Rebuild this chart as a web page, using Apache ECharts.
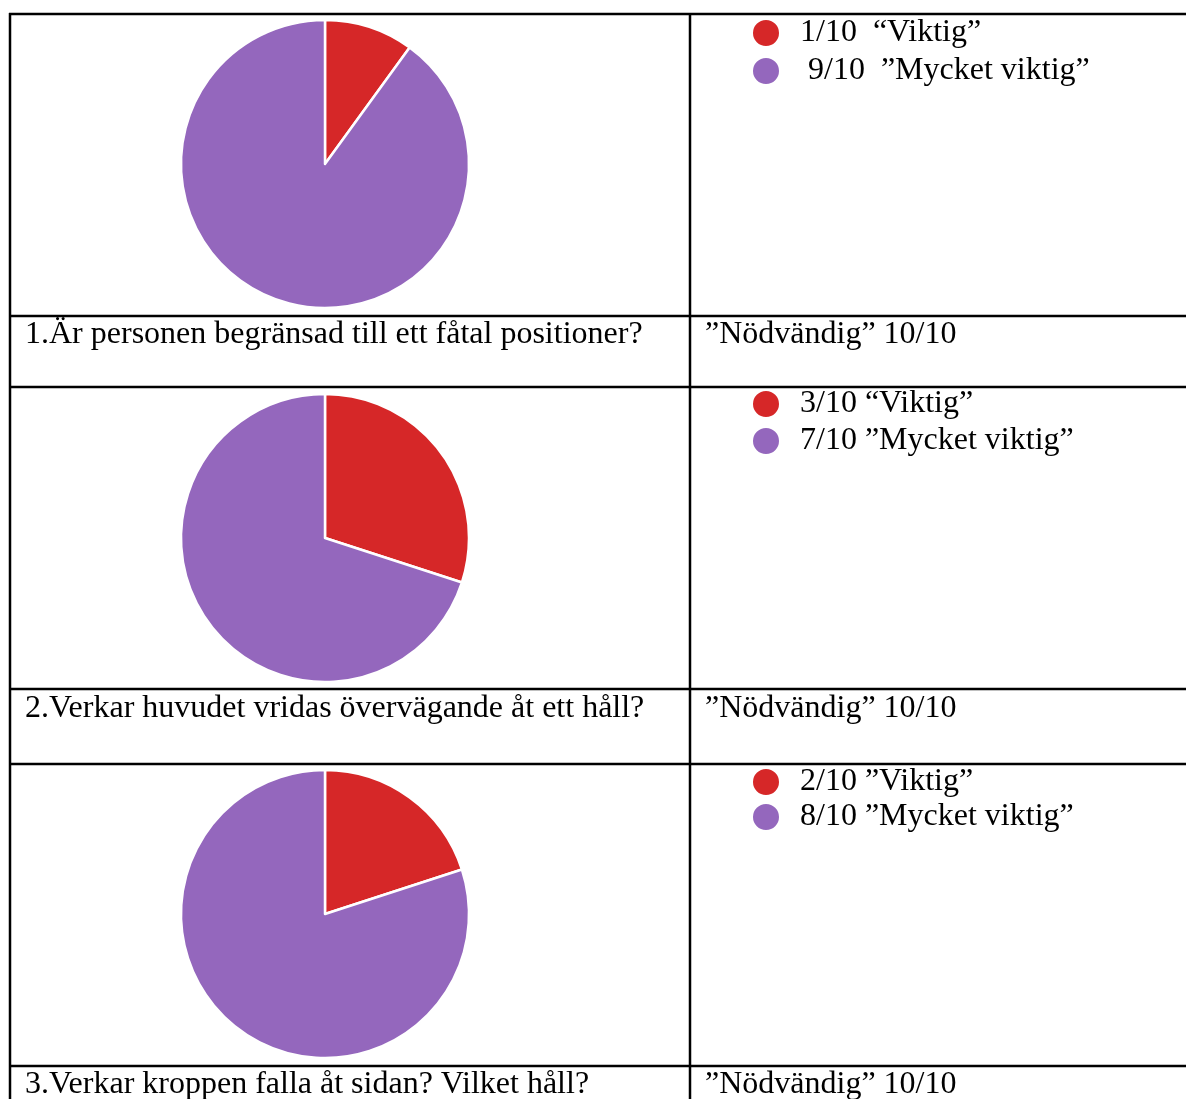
<!DOCTYPE html>
<html>
<head>
<meta charset="utf-8">
<script src="https://cdn.jsdelivr.net/npm/echarts@6/dist/echarts.min.js"></script>
<style>html,body{margin:0;padding:0;background:#fff;}#c{width:1186px;height:1099px;}</style>
</head>
<body>
<div id="c"></div>
<script>
// ---- data ----
const categories = ['Viktig', 'Mycket viktig'];
const q1Values = [1, 9];
const q2Values = [3, 7];
const q3Values = [2, 8];
const q1Labels = ['1/10  \u201cViktig\u201d', ' 9/10  \u201dMycket viktig\u201d'];
const q2Labels = ['3/10 \u201cViktig\u201d', '7/10 \u201dMycket viktig\u201d'];
const q3Labels = ['2/10 \u201dViktig\u201d', '8/10 \u201dMycket viktig\u201d'];
const questions = [
  '1.\u00c4r personen begr\u00e4nsad till ett f\u00e5tal positioner?',
  '2.Verkar huvudet vridas \u00f6verv\u00e4gande \u00e5t ett h\u00e5ll?',
  '3.Verkar kroppen falla \u00e5t sidan? Vilket h\u00e5ll?'
];
const necessary = [
  '\u201dN\u00f6dv\u00e4ndig\u201d 10/10',
  '\u201dN\u00f6dv\u00e4ndig\u201d 10/10',
  '\u201dN\u00f6dv\u00e4ndig\u201d 10/10'
];
const colors = ['#d62728', '#9467bd'];

// ---- layout ----
const FONT = '"Liberation Serif", "Times New Roman", serif';
const pieCenters = [[325, 164], [325, 538], [325, 914]];
const R = 144;
const legendTops = [12, 383, 761];
const legendGaps = [6, 5, 3];

const allValues = [q1Values, q2Values, q3Values];
const allLabels = [q1Labels, q2Labels, q3Labels];

const series = allValues.map((vals, i) => ({
  type: 'pie',
  center: pieCenters[i],
  radius: [0, R],
  startAngle: 90,
  clockwise: true,
  label: { show: false },
  labelLine: { show: false },
  emphasis: { disabled: true },
  itemStyle: { borderColor: '#fff', borderWidth: 2.5 },
  data: vals.map((v, j) => ({ name: allLabels[i][j], value: v, itemStyle: { color: colors[j] } }))
}));

const legends = allLabels.map((labels, i) => ({
  orient: 'vertical',
  left: 746,
  top: legendTops[i],
  icon: 'circle',
  itemWidth: 28,
  itemHeight: 28,
  itemGap: legendGaps[i],
  selectedMode: false,
  data: labels,
  textStyle: { fontFamily: FONT, fontSize: 32, lineHeight: 26, color: '#000', padding: [0, 0, 0, 15] }
}));

// table lines
const hLines = [14, 316, 387, 689, 764, 1066];
const vLines = [10, 690];
const graphics = [];
hLines.forEach(y => graphics.push({
  type: 'line', shape: { x1: 9, y1: y, x2: 1186, y2: y }, style: { stroke: '#000', lineWidth: 2.5 }, silent: true
}));
vLines.forEach(x => graphics.push({
  type: 'line', shape: { x1: x, y1: 13, x2: x, y2: 1099 }, style: { stroke: '#000', lineWidth: 2.5 }, silent: true
}));
const textYs = [335, 709, 1085];
questions.forEach((q, i) => {
  graphics.push({
    type: 'text', x: 25, y: textYs[i], silent: true,
    style: { text: q, font: '32px ' + FONT, fill: '#000', verticalAlign: 'middle', textVerticalAlign: 'middle' }
  });
  graphics.push({
    type: 'text', x: 705, y: textYs[i], silent: true,
    style: { text: necessary[i], font: '32px ' + FONT, fill: '#000', verticalAlign: 'middle', textVerticalAlign: 'middle' }
  });
});

const chart = echarts.init(document.getElementById('c'));
chart.setOption({
  animation: false,
  backgroundColor: '#fff',
  legend: legends,
  series: series,
  graphic: graphics
});
</script>
</body>
</html>
